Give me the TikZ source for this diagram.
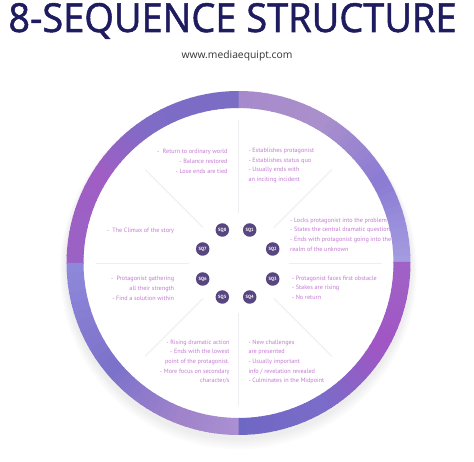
\documentclass[tikz,border=0pt]{standalone}
\usepackage{fontspec}
\setmainfont{Open Sans}
\newfontfamily\ptsans{PT Sans}
\newfontfamily\titlefont{Open Sans}[FakeBold=1.3]
\definecolor{titlec}{HTML}{1E1B5E}
\definecolor{subc}{HTML}{333333}
\definecolor{txtc}{HTML}{C47AD2}
\definecolor{sqc}{HTML}{574680}
\definecolor{spokec}{HTML}{EEEEF2}
\newcommand\Rin{155}
\newcommand\Rout{172}
\newcommand\ringseg[4]{%
  \foreach \i in {0,...,11}{%
    \pgfmathsetmacro\aa{#1+(#2-#1)*\i/12}%
    \pgfmathsetmacro\ab{#1+(#2-#1)*(\i+1)/12+0.4}%
    \pgfmathtruncatemacro\pp{100*\i/11}%
    \definecolor{ca}{HTML}{#3}\definecolor{cb}{HTML}{#4}%
    \colorlet{segc}{cb!\pp!ca}%
    \fill[segc] (\aa:\Rin) arc[start angle=\aa, end angle=\ab, radius=\Rin]
      -- (\ab:\Rout) arc[start angle=\ab, end angle=\aa, radius=\Rout] -- cycle;
  }}
\begin{document}
\begin{tikzpicture}[x=1pt,y=-1pt,
  txt/.style={font=\ptsans\fontsize{6.2}{9.65}\selectfont, text=txtc, inner sep=0pt},
  sq/.style={circle, fill=sqc, minimum size=13.5pt, inner sep=0pt, text=white,
    font=\ptsans\bfseries\fontsize{4.6}{5}\selectfont},
  spoke/.style={draw=spokec, line width=0.8pt}]
\useasboundingbox[fill=white] (0,0) rectangle (474,462);

% title
\node[font=\titlefont\fontsize{40}{40}\selectfont, text=titlec, anchor=base, inner sep=0pt] (title) at (232.5,32) {\scalebox{0.95}[1]{8-SEQUENCE STRUCTURE}};
\node[font=\fontsize{10.3}{12}\selectfont, text=subc, anchor=base, inner sep=0pt] (url) at (237,58.5) {www.mediaequipt.com};

% ring
\begin{scope}[shift={(238.5,263)}, yscale=-1]
  \foreach \k in {1,...,6}{
    \fill[black, opacity=0.012] (0,-3-\k*0.8) circle[radius=\Rout+\k*1.1];
  }
  \fill[white] (0,0) circle[radius=\Rout];
  \ringseg{0}{30}{A39CE0}{8C7CD4}
  \ringseg{30}{60}{8C7CD4}{A98FCB}
  \ringseg{60}{90}{A98FCB}{A78ACB}
  \ringseg{90}{122}{7B6CC4}{7E6CC6}
  \ringseg{122}{148}{7E6CC6}{A05EC4}
  \ringseg{148}{180}{A05EC4}{9A62C4}
  \ringseg{180}{220}{8E88DA}{7D72CA}
  \ringseg{220}{250}{7D72CA}{A083CA}
  \ringseg{250}{270}{A083CA}{AA90D2}
  \ringseg{270}{300}{6F67C4}{7A6CC8}
  \ringseg{300}{330}{7A6CC8}{A056C4}
  \ringseg{330}{360}{A056C4}{A062C6}
  % spokes
  \foreach \a in {0,90,180,270}{ \draw[spoke] (\a:50) -- (\a:143); }
  \foreach \a in {45,135,225,315}{ \draw[spoke] (\a:50) -- (\a:132); }
\end{scope}

% SQ markers
\node[sq] (sq1) at (249.7,230) {SQ1};
\node[sq] (sq2) at (272.7,249) {SQ2};
\node[sq] (sq3) at (272.7,279) {SQ3};
\node[sq] (sq4) at (249.7,297) {SQ4};
\node[sq] (sq5) at (222.3,297) {SQ5};
\node[sq] (sq6) at (202.7,279) {SQ6};
\node[sq] (sq7) at (202.7,249) {SQ7};
\node[sq] (sq8) at (222.3,230) {SQ8};

% texts
\node[txt, anchor=north west, align=left] (t1) at (248.3,148) {- Establishes protagonist\\- Establishes status quo\\- Usually ends with\\an inciting incident};
\node[txt, anchor=north east, align=right] (t8) at (227.7,149.4) {-~ Return to ordinary world\\- Balance restored\\- Lose ends are tied};
\node[txt, anchor=north west, align=left] (t2) at (290,217.7) {- Locks protagonist into the problem\\- States the central dramatic question\\- Ends with protagonist going into the\\realm of the unknown};
\node[txt, anchor=north east, align=right] (t7) at (174.3,227.4) {-~ The Climax of the story};
\node[txt, anchor=north east, align=right] (t6) at (174.3,276.4) {-~ Protagonist gathering\\all their strength\\- Find a solution within};
\node[txt, anchor=north west, align=left] (t3) at (291.7,275.7) {- Protagonist faces first obstacle\\- Stakes are rising\\- No return};
\node[txt, anchor=north east, align=right] (t5) at (229.7,339.7) {- Rising dramatic action\\- Ends with the lowest\\point of the protagonist.\\- More focus on secondary\\character/s};
\node[txt, anchor=north west, align=left] (t4) at (248.3,339.7) {- New challenges\\are presented\\- Usually important\\info / revelation revealed\\- Culminates in the Midpoint};
\end{tikzpicture}
\end{document}
